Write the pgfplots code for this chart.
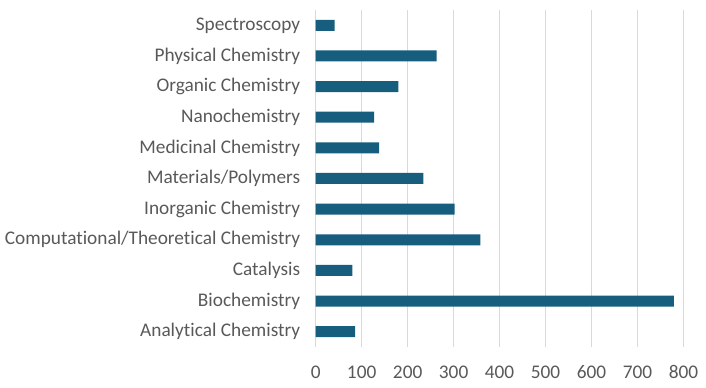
\documentclass[border=0pt]{standalone}
\usepackage{pgfplots}
\pgfplotsset{compat=1.18}
\usepackage{fontspec}
\setmainfont{Carlito}[Ligatures=NoCommon]
\definecolor{barc}{RGB}{23,94,126}
\definecolor{txt}{RGB}{89,89,89}
\definecolor{grd}{RGB}{217,217,217}
\begin{document}
\begin{tikzpicture}
\begin{axis}[
  name=ax,
  scale only axis,
  width=367.8bp, height=337bp,
  xbar, bar width=11bp,
  xmin=0, xmax=800,
  ymin=-0.5, ymax=10.5,
  xtick={0,100,...,800},
  ytick={0,...,10},
  yticklabels={Analytical Chemistry,{Biochemistry\ },{Catalysis\ },Computational/Theoretical Chemistry,Inorganic Chemistry,Materials/Polymers,Medicinal Chemistry,Nanochemistry,Organic Chemistry,Physical Chemistry,Spectroscopy},
  xmajorgrids, grid style={grd, line width=1bp},
  axis line style={draw=none},
  major tick length=0pt,
  tick label style={font=\fontsize{19.3bp}{21bp}\selectfont, text=txt},
  /pgf/number format/assume math mode=true,
  xticklabel style={yshift=-15bp},
  yticklabel style={xshift=-12bp},
]
\addplot[fill=barc, draw=none] coordinates {
(86,0) (779,1) (80,2) (358,3) (302,4) (234,5) (138,6) (127,7) (180,8) (263,9) (41,10)};
\end{axis}
\pgfresetboundingbox
\path[use as bounding box] ([xshift=-315.7bp,yshift=-41bp]ax.south west) rectangle ([xshift=22.5bp,yshift=10bp]ax.north east);
\end{tikzpicture}
\end{document}
